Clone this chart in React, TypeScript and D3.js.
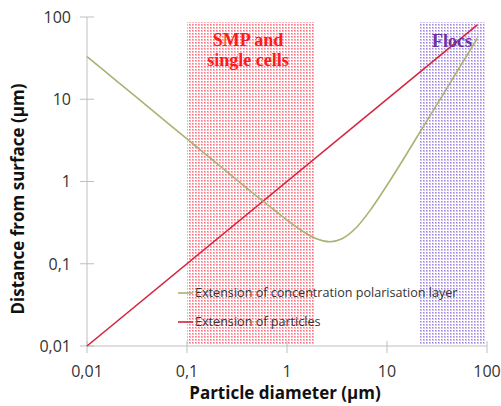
import React from "react";
import * as d3 from "d3";

const W = 501;
const H = 406;

const xTicks = [0.01, 0.1, 1, 10, 100];
const yTicks = [0.01, 0.1, 1, 10, 100];
const tickLabels = ["0,01", "0,1", "1", "10", "100"];

// Extension of concentration polarisation layer
const polX = [0.01, 0.02, 0.05, 0.1, 0.2, 0.5, 0.8, 1, 1.5, 2, 2.7, 3.5, 5, 7, 10, 15, 20, 30, 50, 80];
const polY = [33, 16.5, 6.6, 3.3, 1.65, 0.66, 0.42, 0.34, 0.24, 0.2, 0.185, 0.2, 0.28, 0.47, 0.9, 1.97, 3.5, 7.8, 21.6, 55];

// Extension of particles
const partX = [0.01, 80];
const partY = [0.01, 80];

// Shaded regions (particle diameter ranges)
const bandNames = ["SMP", "Flocs"];
const bandStart = [0.1, 21];
const bandEnd = [1.9, 95];

const seriesNames = ["Extension of concentration polarisation layer", "Extension of particles"];

const FONT = "'Open Sans', 'Liberation Sans', sans-serif";

export default function App() {
  const x = d3.scaleLog().domain([0.01, 100]).range([87, 487]);
  const y = d3.scaleLog().domain([0.01, 100]).range([346, 17]);

  const line = d3
    .line<[number, number]>()
    .x((d) => x(d[0]))
    .y((d) => y(d[1]))
    .curve(d3.curveMonotoneX);

  const polData: [number, number][] = polX.map((v, i) => [v, polY[i]]);
  const partData: [number, number][] = partX.map((v, i) => [v, partY[i]]);

  const bandTop = 22;
  const bandBottom = 345;

  return (
    <svg width={W} height={H} style={{ position: "absolute", left: 0, top: 0, background: "#fff" }}>
      <defs>
        <pattern id="redDots" width="3" height="3" patternUnits="userSpaceOnUse">
          <rect width="3" height="3" fill="#ffffff" />
          <rect x="0" y="0" width="2" height="2" fill="#ffb3ba" />
          <rect x="0" y="0" width="1" height="1" fill="#ff6f80" />
        </pattern>
        <pattern id="purpleDots" width="3" height="3" patternUnits="userSpaceOnUse">
          <rect width="3" height="3" fill="#ffffff" />
          <rect x="0" y="0" width="2" height="2" fill="#d2c2f0" />
          <rect x="0" y="0" width="1" height="1" fill="#a184dc" />
        </pattern>
      </defs>

      {/* bands */}
      {bandNames.map((n, i) => (
        <rect
          key={n}
          x={x(bandStart[i])}
          y={bandTop}
          width={x(bandEnd[i]) - x(bandStart[i])}
          height={bandBottom - bandTop}
          fill={i === 0 ? "url(#redDots)" : "url(#purpleDots)"}
        />
      ))}

      {/* axes */}
      <line x1={87} x2={87} y1={17} y2={346} stroke="#bfbfbf" strokeWidth={1} />
      <line x1={87} x2={487} y1={346} y2={346} stroke="#bfbfbf" strokeWidth={1} />
      {yTicks.map((t) => (
        <line key={"yt" + t} x1={80} x2={94} y1={y(t)} y2={y(t)} stroke="#bfbfbf" strokeWidth={1} />
      ))}
      {xTicks.map((t) => (
        <line key={"xt" + t} x1={x(t)} x2={x(t)} y1={341} y2={353} stroke="#bfbfbf" strokeWidth={1} />
      ))}
      {yTicks.map((t, i) => (
        <text
          key={"yl" + t}
          x={71}
          y={y(t)}
          dy="0.36em"
          textAnchor="end"
          fontFamily={FONT}
          fontSize={16}
          fill="#333"
        >
          {tickLabels[i]}
        </text>
      ))}
      {xTicks.map((t, i) => (
        <text
          key={"xl" + t}
          x={x(t)}
          y={377}
          textAnchor="middle"
          fontFamily={FONT}
          fontSize={16}
          fill="#333"
        >
          {tickLabels[i]}
        </text>
      ))}

      {/* axis titles */}
      <text x={285} y={399} textAnchor="middle" fontFamily={FONT} fontWeight="bold" fontSize={17} fill="#111">
        Particle diameter (μm)
      </text>
      <text
        transform="translate(24,199) rotate(-90)"
        textAnchor="middle"
        fontFamily={FONT}
        fontWeight="bold"
        fontSize={17}
        fill="#111"
      >
        Distance from surface (μm)
      </text>

      {/* series */}
      <path d={line(partData) || ""} fill="none" stroke="#d4243d" strokeWidth={1.6} />
      <path d={line(polData) || ""} fill="none" stroke="#aab274" strokeWidth={1.6} />

      {/* band labels */}
      <text x={248} y={46} textAnchor="middle" fontFamily="'Liberation Serif', serif" fontWeight="bold" fontSize={18} fill="#ff1a1a">
        SMP and
      </text>
      <text x={248} y={66} textAnchor="middle" fontFamily="'Liberation Serif', serif" fontWeight="bold" fontSize={18} fill="#ff1a1a">
        single cells
      </text>
      <text x={452} y={47} textAnchor="middle" fontFamily="'Liberation Serif', serif" fontWeight="bold" fontSize={18} fill="#7030a0">
        Flocs
      </text>

      {/* legend */}
      {seriesNames.map((n, i) => (
        <g key={n} transform={`translate(178,${293 + i * 29})`}>
          <line x1={0} x2={15} y1={0} y2={0} stroke={i === 0 ? "#aab274" : "#d4243d"} strokeWidth={1.6} />
          <text x={17} y={0} dy="0.35em" fontFamily={FONT} fontSize={12.6} fill="#333">
            {n}
          </text>
        </g>
      ))}
    </svg>
  );
}
